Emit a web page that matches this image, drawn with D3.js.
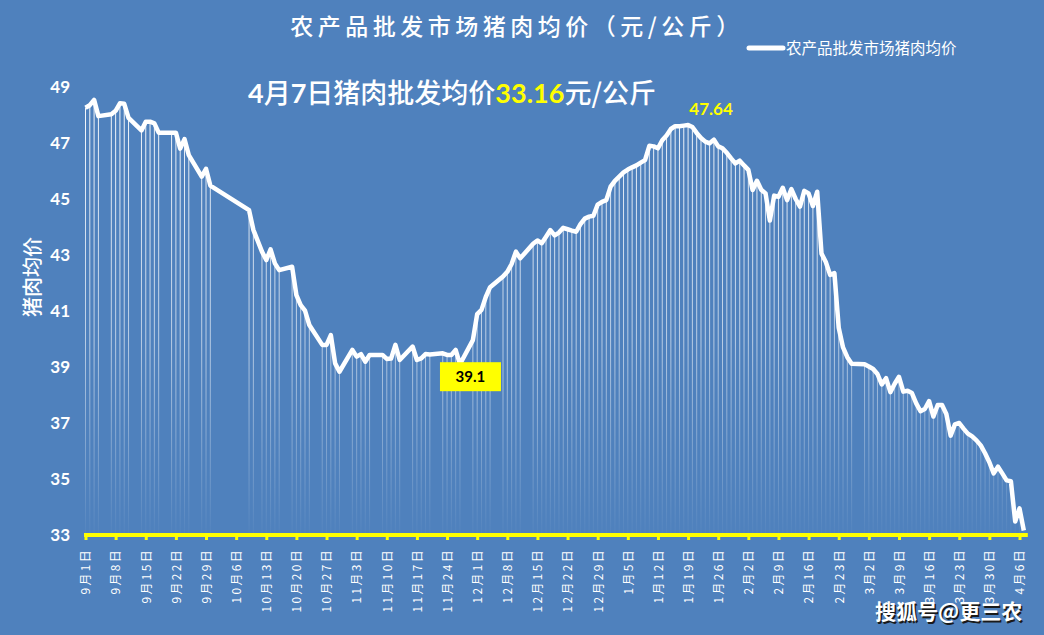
<!DOCTYPE html>
<html>
<head>
<meta charset="utf-8">
<script src="https://cdn.jsdelivr.net/npm/d3@7"></script>
<style>
body { margin: 0; background: #4f81bd; }
svg { display: block; }
</style>
</head>
<body>
<div id="chart"></div>
<script>

// trading days and average wholesale pork price (yuan / kg)
var dates = [
    '9/1','9/2','9/3','9/4','9/7','9/8','9/9','9/10','9/11','9/14','9/15','9/16','9/17','9/18',
    '9/21','9/22','9/23','9/24','9/25','9/28','9/29','9/30',
    '10/9','10/10','10/12','10/13','10/14','10/15','10/16','10/19','10/20','10/21','10/22','10/23',
    '10/26','10/27','10/28','10/29','10/30',
    '11/2','11/3','11/4','11/5','11/6','11/9','11/10','11/11','11/12','11/13','11/16','11/17','11/18',
    '11/19','11/20','11/23','11/24','11/25','11/26','11/27','11/30',
    '12/1','12/2','12/3','12/4','12/7','12/8','12/9','12/10','12/11',
    '12/14','12/15','12/16','12/17','12/18','12/19','12/20','12/21','12/22','12/23','12/24','12/25',
    '12/26','12/27','12/28','12/29','12/30','12/31',
    '1/1','1/2','1/3','1/4','1/5','1/6','1/7','1/8','1/9','1/10','1/11','1/12','1/13','1/14','1/15',
    '1/16','1/17','1/18','1/19','1/20','1/21','1/22','1/23','1/24','1/25','1/26','1/27','1/28','1/29',
    '1/30','1/31',
    '2/1','2/2','2/3','2/4','2/5','2/6','2/7','2/8','2/9','2/10','2/11','2/12','2/13','2/14','2/15',
    '2/16','2/17','2/18','2/19','2/20','2/21','2/22','2/23','2/24','2/25','2/26',
    '3/1','3/2','3/3','3/4','3/5','3/6','3/7','3/8','3/9','3/10','3/11','3/12','3/13','3/14','3/15',
    '3/16','3/17','3/18','3/19','3/20','3/21','3/22','3/23','3/24','3/25','3/26','3/27','3/28','3/29',
    '3/30','3/31',
    '4/1','4/2','4/3','4/4','4/5','4/6','4/7'
];

var prices = [
    48.26,48.35,48.54,47.96,48.03,48.15,48.42,48.40,47.90,47.45,47.76,47.76,47.70,47.37,
    47.37,47.37,46.80,47.14,46.57,45.80,46.08,45.48,
    44.60,43.90,43.12,42.82,43.20,42.70,42.46,42.58,41.57,41.21,41.01,40.50,
    39.79,39.79,40.14,39.13,38.83,
    39.61,39.37,39.46,39.19,39.43,39.43,39.29,39.30,39.79,39.25,39.73,39.25,39.31,
    39.46,39.45,39.49,39.43,39.43,39.61,39.10,39.96,
    40.89,41.04,41.50,41.85,42.23,42.40,42.68,43.12,42.88,
    43.40,43.52,43.42,43.65,43.89,43.70,43.80,43.97,43.92,43.87,43.83,44.10,
    44.30,44.37,44.40,44.80,44.90,44.96,
    45.44,45.65,45.80,45.95,46.05,46.13,46.20,46.30,46.39,46.90,46.88,46.81,47.10,47.27,47.50,
    47.60,47.60,47.62,47.64,47.57,47.36,47.18,47.05,46.99,47.12,46.88,46.81,46.65,46.45,
    46.27,46.37,
    46.20,46.04,45.32,45.65,45.33,45.20,44.23,45.12,45.08,45.40,44.96,45.35,45.00,44.73,45.29,
    45.20,44.75,45.26,43.05,42.75,42.29,42.35,40.40,39.70,39.35,39.12,
    39.10,39.02,38.93,38.75,38.38,38.60,38.10,38.40,38.65,38.12,38.15,38.07,37.70,37.42,37.50,
    37.78,37.23,37.64,37.64,37.32,36.55,36.95,37.00,36.80,36.62,36.52,36.38,36.20,35.92,
    35.60,35.20,
    35.44,35.20,34.95,34.92,33.48,33.95,33.16
];

var yTicks = [33, 35, 37, 39, 41, 43, 45, 47, 49];

// annotated points
var latestPrice = '33.16',
    peakDay = '1/19', peakLabel = '47.64',
    lowDay = '11/27', lowLabel = '39.1';

var width = 1044,
    height = 635,
    cjk = '"Noto Sans CJK SC", "Noto Sans", sans-serif',
    num = 'Lato, "Liberation Sans", sans-serif',
    yellow = '#ffff00';

function parseDay ( s ) {
    var p = s.split( '/' ), m = +p[0];
    return new Date( Date.UTC( m >= 9 ? 2020 : 2021, m - 1, +p[1] ) );
}

var data = dates.map( function ( d, i ) { return [ parseDay( d ), prices[i] ]; } );

var xScale = d3.scaleUtc()
    .domain( [ parseDay( '9/1' ), parseDay( '4/6' ) ] )
    .range( [ 85.5, 1019.5 ] );

var yScale = d3.scaleLinear()
    .domain( [ 33, 49 ] )
    .range( [ 535, 87 ] );

var svg = d3.select( '#chart' ).append( 'svg' )
    .attr( 'width', width )
    .attr( 'height', height );

svg.append( 'rect' )
    .attr( 'width', width )
    .attr( 'height', height )
    .attr( 'fill', '#4f81bd' );

// fading gradient for the drop lines
var grad = svg.append( 'defs' ).append( 'linearGradient' )
    .attr( 'id', 'drop' )
    .attr( 'gradientUnits', 'userSpaceOnUse' )
    .attr( 'x1', 0 ).attr( 'x2', 0 )
    .attr( 'y1', yScale( 48.5 ) ).attr( 'y2', yScale( 33 ) );
grad.append( 'stop' ).attr( 'offset', 0 ).attr( 'stop-color', '#fff' ).attr( 'stop-opacity', 0.95 );
grad.append( 'stop' ).attr( 'offset', 0.55 ).attr( 'stop-color', '#fff' ).attr( 'stop-opacity', 0.6 );
grad.append( 'stop' ).attr( 'offset', 1 ).attr( 'stop-color', '#fff' ).attr( 'stop-opacity', 0.02 );

// Title
svg.append( 'text' )
    .attr( 'x', 517 )
    .attr( 'y', 35 )
    .attr( 'text-anchor', 'middle' )
    .style( 'font', '500 23px ' + cjk )
    .style( 'letter-spacing', '4.5px' )
    .attr( 'fill', '#fff' )
    .text( '农产品批发市场猪肉均价（元/公斤）' );

// Legend
svg.append( 'line' )
    .attr( 'x1', 749 ).attr( 'x2', 783 )
    .attr( 'y1', 48 ).attr( 'y2', 48 )
    .attr( 'stroke', '#fff' )
    .attr( 'stroke-width', 5 )
    .attr( 'stroke-linecap', 'round' );
svg.append( 'text' )
    .attr( 'x', 786 )
    .attr( 'y', 54 )
    .style( 'font', '15.5px ' + cjk )
    .attr( 'fill', '#fff' )
    .text( '农产品批发市场猪肉均价' );

// Subtitle with latest price
var sub = svg.append( 'text' )
    .attr( 'x', 248 )
    .attr( 'y', 103 )
    .attr( 'fill', '#fff' )
    .style( 'font-size', '27px' );
[ [ '4', num, '#fff', 700 ], [ '月', cjk, '#fff', 500 ], [ '7', num, '#fff', 700 ],
  [ '日猪肉批发均价', cjk, '#fff', 500 ], [ latestPrice, num, yellow, 700 ],
  [ '元/公斤', cjk, '#fff', 500 ] ].forEach( function ( t ) {
    sub.append( 'tspan' )
        .style( 'font-family', t[1] )
        .style( 'font-weight', t[3] )
        .attr( 'fill', t[2] )
        .text( t[0] );
});

// Y axis title
svg.append( 'text' )
    .attr( 'transform', 'translate(40,277) rotate(-90)' )
    .attr( 'text-anchor', 'middle' )
    .style( 'font', '500 20px ' + cjk )
    .attr( 'fill', '#fff' )
    .text( '猪肉均价' );

// Y tick labels
svg.append( 'g' )
    .selectAll( 'text' )
    .data( yTicks )
    .enter().append( 'text' )
    .attr( 'x', 70 )
    .attr( 'y', function ( d ) { return yScale( d ); } )
    .attr( 'dy', '0.35em' )
    .attr( 'text-anchor', 'end' )
    .style( 'font', 'bold 17px ' + num )
    .attr( 'fill', '#fff' )
    .text( function ( d ) { return d; } );

// Drop lines
svg.append( 'g' )
    .selectAll( 'line' )
    .data( data )
    .enter().append( 'line' )
    .attr( 'x1', function ( d ) { return xScale( d[0] ); } )
    .attr( 'x2', function ( d ) { return xScale( d[0] ); } )
    .attr( 'y1', function ( d ) { return yScale( d[1] ); } )
    .attr( 'y2', yScale( 33 ) )
    .attr( 'stroke', 'url(#drop)' )
    .attr( 'stroke-width', 1 );

// X axis
var tickDays = d3.utcDay.range( parseDay( '9/1' ), parseDay( '4/7' ), 7 );
var xAxis = d3.axisBottom( xScale )
    .tickValues( tickDays )
    .tickFormat( d3.utcFormat( '%-m月%-d日' ) )
    .tickSize( 5 )
    .tickSizeOuter( 0 );

var gx = svg.append( 'g' )
    .attr( 'transform', 'translate(0,' + yScale( 33 ) + ')' )
    .call( xAxis );
gx.select( '.domain' ).remove();
gx.selectAll( '.tick line' )
    .attr( 'stroke', yellow )
    .attr( 'stroke-width', 3 );
gx.selectAll( '.tick text' )
    .attr( 'transform', 'rotate(-90)' )
    .attr( 'x', -13 )
    .attr( 'y', 0 )
    .attr( 'dy', '0.36em' )
    .style( 'text-anchor', 'end' )
    .style( 'font', '12px ' + cjk )
    .style( 'letter-spacing', '2.3px' )
    .attr( 'fill', '#fff' );
gx.append( 'line' )
    .attr( 'x1', xScale( parseDay( '9/1' ) ) - 1.5 )
    .attr( 'x2', xScale( parseDay( '4/7' ) ) + 4 )
    .attr( 'stroke', yellow )
    .attr( 'stroke-width', 4 );

// Price line
var line = d3.line()
    .x( function ( d ) { return xScale( d[0] ); } )
    .y( function ( d ) { return yScale( d[1] ); } );

svg.append( 'path' )
    .datum( data )
    .attr( 'd', line )
    .attr( 'fill', 'none' )
    .attr( 'stroke', '#fff' )
    .attr( 'stroke-width', 4.5 )
    .attr( 'stroke-linejoin', 'round' );

// Peak label (January high)
var peak = data[ dates.indexOf( peakDay ) ];
svg.append( 'text' )
    .attr( 'x', xScale( peak[0] ) + 23 )
    .attr( 'y', yScale( peak[1] ) - 10 )
    .attr( 'text-anchor', 'middle' )
    .style( 'font', 'bold 17px ' + num )
    .attr( 'fill', yellow )
    .text( peakLabel );

// Low label (November low)
var low = data[ dates.indexOf( lowDay ) ];
var mx = xScale( low[0] ) + 10.5,
    my = yScale( low[1] ) + 12.5;
svg.append( 'rect' )
    .attr( 'x', mx - 30.5 )
    .attr( 'y', my - 14.5 )
    .attr( 'width', 61 )
    .attr( 'height', 29 )
    .attr( 'fill', yellow );
svg.append( 'text' )
    .attr( 'x', mx )
    .attr( 'y', my )
    .attr( 'dy', '0.36em' )
    .attr( 'text-anchor', 'middle' )
    .style( 'font', 'bold 15px ' + num )
    .attr( 'fill', '#000' )
    .text( lowLabel );

// Watermark
[ [ 1.5, '#1a1a1a' ], [ 0, '#fff' ] ].forEach( function ( s ) {
    svg.append( 'text' )
        .attr( 'x', 875 + s[0] )
        .attr( 'y', 619 + s[0] )
        .style( 'font', 'bold 21px ' + cjk )
        .attr( 'fill', s[1] )
        .text( '搜狐号@更三农' );
});

</script>
</body>
</html>
